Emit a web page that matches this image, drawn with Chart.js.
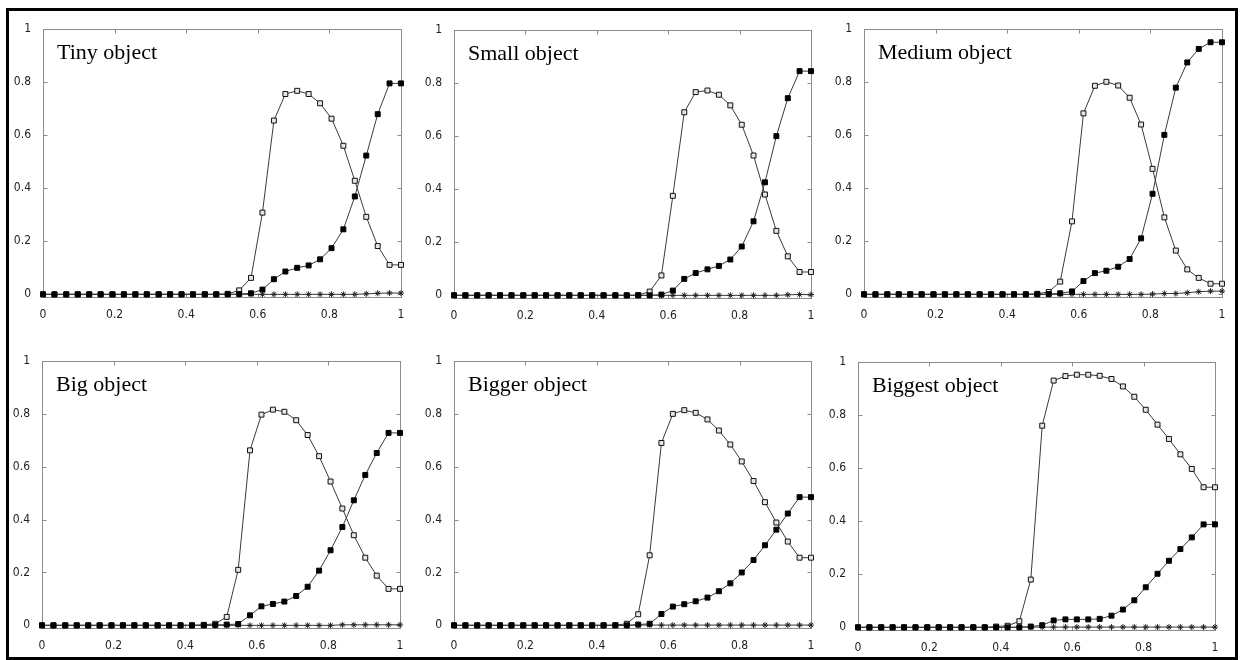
<!DOCTYPE html>
<html>
<head>
<meta charset="utf-8">
<script src="https://cdn.jsdelivr.net/npm/chart.js@4.4.1/dist/chart.umd.min.js"></script>
<style>
  html, body { margin: 0; padding: 0; background: #fff; }
  body { width: 1243px; height: 660px; position: relative; overflow: hidden; }
  #frame { position: absolute; left: 6px; top: 8px; width: 1232px; height: 652px; box-sizing: border-box; border: 3px solid #000; }
  canvas { position: absolute; }
</style>
</head>
<body>
<div id="frame"></div>
<script>
// ---- data ----
const xValues = [0, 0.032, 0.065, 0.097, 0.129, 0.161, 0.194, 0.226, 0.258, 0.290, 0.323, 0.355, 0.387, 0.419, 0.452, 0.484,
                 0.516, 0.548, 0.581, 0.613, 0.645, 0.677, 0.710, 0.742, 0.774, 0.806, 0.839, 0.871, 0.903, 0.935, 0.968, 1];
const xTickValues = [0, 0.2, 0.4, 0.6, 0.8, 1];
const xTickLabels = ['0', '0.2', '0.4', '0.6', '0.8', '1'];
const yTickValues = [0, 0.2, 0.4, 0.6, 0.8, 1];
const yTickLabels = ['0', '0.2', '0.4', '0.6', '0.8', '1'];
const panelTitles = ['Tiny object', 'Small object', 'Medium object', 'Big object', 'Bigger object', 'Biggest object'];

const tinyOpen    = [0,0,0,0,0,0,0,0,0,0,0,0,0,0,0,0, 0.002,0.015,0.062,0.308,0.655,0.755,0.767,0.755,0.720,0.662,0.560,0.428,0.292,0.182,0.111,0.111];
const tinyFilled  = [0,0,0,0,0,0,0,0,0,0,0,0,0,0,0,0, 0,0.001,0.004,0.018,0.057,0.086,0.100,0.109,0.132,0.174,0.245,0.369,0.523,0.679,0.795,0.795];
const tinyStar    = [0,0,0,0,0,0,0,0,0,0,0,0,0,0,0,0, 0,0,0,0,0,0,0,0,0,0,0,0,0.002,0.004,0.005,0.005];

const smallOpen   = [0,0,0,0,0,0,0,0,0,0,0,0,0,0,0,0, 0.001,0.014,0.075,0.375,0.690,0.766,0.772,0.756,0.716,0.643,0.527,0.380,0.243,0.147,0.088,0.088];
const smallFilled = [0,0,0,0,0,0,0,0,0,0,0,0,0,0,0,0, 0,0,0.003,0.018,0.062,0.084,0.098,0.111,0.135,0.184,0.279,0.426,0.600,0.743,0.845,0.845];
const smallStar   = [0,0,0,0,0,0,0,0,0,0,0,0,0,0,0,0, 0,0,0,0,0,0,0,0,0,0,0,0,0,0.002,0.003,0.003];

const mediumOpen  = [0,0,0,0,0,0,0,0,0,0,0,0,0,0,0,0.002, 0.009,0.048,0.275,0.682,0.786,0.801,0.787,0.741,0.640,0.473,0.290,0.165,0.094,0.062,0.040,0.040];
const mediumFilled= [0,0,0,0,0,0,0,0,0,0,0,0,0,0,0,0, 0.001,0.004,0.011,0.050,0.080,0.089,0.104,0.133,0.211,0.379,0.601,0.779,0.874,0.925,0.950,0.950];
const mediumStar  = [0,0,0,0,0,0,0,0,0,0,0,0,0,0,0,0, 0,0,0,0,0,0,0,0,0,0.001,0.003,0.003,0.006,0.010,0.012,0.012];

const bigOpen     = [0,0,0,0,0,0,0,0,0,0,0,0,0,0,0.002,0.006, 0.032,0.210,0.662,0.797,0.816,0.808,0.776,0.720,0.640,0.544,0.442,0.341,0.256,0.188,0.138,0.138];
const bigFilled   = [0,0,0,0,0,0,0,0,0,0,0,0,0,0,0,0.001, 0.003,0.005,0.038,0.072,0.081,0.090,0.111,0.146,0.207,0.284,0.372,0.473,0.569,0.652,0.728,0.728];
const bigStar     = [0,0,0,0,0,0,0,0,0,0,0,0,0,0,0,0, 0,0,0,0,0,0,0,0,0,0,0.002,0.002,0.002,0.002,0.002,0.002];

const biggerOpen  = [0,0,0,0,0,0,0,0,0,0,0,0,0,0,0.001,0.006, 0.042,0.265,0.690,0.800,0.814,0.804,0.779,0.737,0.684,0.620,0.546,0.466,0.389,0.317,0.256,0.256];
const biggerFilled= [0,0,0,0,0,0,0,0,0,0,0,0,0,0,0,0, 0.003,0.006,0.043,0.071,0.080,0.091,0.105,0.129,0.159,0.200,0.247,0.303,0.362,0.423,0.485,0.485];
const biggerStar  = [0,0,0,0,0,0,0,0,0,0,0,0,0,0,0,0, 0.001,0.001,0.001,0.001,0.001,0.001,0.001,0.001,0.001,0.001,0.001,0.001,0.001,0.001,0.001,0.001];

const biggestOpen = [0,0,0,0,0,0,0,0,0,0,0,0,0.003,0.006,0.023,0.180, 0.760,0.930,0.947,0.952,0.952,0.948,0.936,0.908,0.869,0.820,0.764,0.710,0.652,0.597,0.528,0.528];
const biggestFilled=[0,0,0,0,0,0,0,0,0,0,0,0,0,0,0,0.003, 0.008,0.026,0.030,0.030,0.030,0.032,0.044,0.067,0.102,0.151,0.202,0.251,0.295,0.339,0.388,0.388];
const biggestStar = [0,0,0,0,0,0,0,0,0,0,0,0,0,0,0.001,0.001, 0.001,0.001,0.001,0.001,0.001,0.001,0.001,0.001,0.001,0.001,0.001,0.001,0.001,0.001,0.001,0.001];

const panelSeries = [
  [tinyOpen, tinyFilled, tinyStar],
  [smallOpen, smallFilled, smallStar],
  [mediumOpen, mediumFilled, mediumStar],
  [bigOpen, bigFilled, bigStar],
  [biggerOpen, biggerFilled, biggerStar],
  [biggestOpen, biggestFilled, biggestStar]
];

// ---- layout (plot-area rectangles in page pixels) ----
const panelRects = [
  {L: 43,  R: 401,  T: 29,  B: 297},
  {L: 454, R: 811,  T: 30,  B: 298},
  {L: 864, R: 1222, T: 29,  B: 297},
  {L: 42,  R: 400,  T: 361, B: 628},
  {L: 454, R: 811,  T: 361, B: 628},
  {L: 858, R: 1215, T: 362, B: 630}
];
const YW = 40, XH = 26, PT = 12, PR = 12;
const frameColor = '#8c8c8c';
const lineColor = '#3a3a3a';

const panelDecor = {
  id: 'panelDecor',
  beforeDatasetsDraw(chart, args, opts) {
    const {ctx, chartArea: a, scales: {x, y}} = chart;
    ctx.save();
    ctx.strokeStyle = frameColor;
    ctx.lineWidth = 1;
    const l = Math.round(a.left) + 0.5, r = Math.round(a.right) + 0.5;
    const t = Math.round(a.top) + 0.5, b = Math.round(a.bottom) + 0.5;
    ctx.strokeRect(l, t, r - l, b - t);
    const tl = 4;
    ctx.beginPath();
    xTickValues.forEach(v => {
      const px = Math.round(x.getPixelForValue(v)) + 0.5;
      ctx.moveTo(px, t); ctx.lineTo(px, t + tl);
      ctx.moveTo(px, b); ctx.lineTo(px, b - tl);
    });
    yTickValues.forEach(v => {
      const py = Math.round(y.getPixelForValue(v)) + 0.5;
      ctx.moveTo(l, py); ctx.lineTo(l + tl, py);
      ctx.moveTo(r, py); ctx.lineTo(r - tl, py);
    });
    ctx.stroke();
    ctx.fillStyle = '#000';
    ctx.font = '22px "Liberation Serif", "Times New Roman", serif';
    ctx.textBaseline = 'alphabetic';
    ctx.textAlign = 'left';
    ctx.fillText(opts.title, a.left + 14, a.top + 30);
    ctx.restore();
  }
};

function pts(arr) { return xValues.map((xv, i) => ({x: xv, y: arr[i]})); }

const tickFont = { family: '"DejaVu Sans Condensed", "Liberation Sans", Arial, sans-serif', size: 12 };

panelRects.forEach((rc, idx) => {
  const cv = document.createElement('canvas');
  const w = YW + (rc.R - rc.L) + PR;
  const h = PT + (rc.B - rc.T) + XH;
  cv.width = w; cv.height = h;
  cv.style.width = w + 'px'; cv.style.height = h + 'px';
  cv.style.left = (rc.L - YW) + 'px';
  cv.style.top = (rc.T - PT) + 'px';
  document.body.appendChild(cv);
  const [open, filled, star] = panelSeries[idx];
  new Chart(cv, {
    type: 'line',
    data: {
      datasets: [
        { data: pts(filled), order: 0, borderColor: lineColor, borderWidth: 1, pointStyle: 'rect', pointRadius: 3.5,
          pointBackgroundColor: '#000', pointBorderColor: '#000', pointBorderWidth: 1, tension: 0, clip: false },
        { data: pts(open), order: 1, borderColor: lineColor, borderWidth: 1, pointStyle: 'rect', pointRadius: 3.5,
          pointBackgroundColor: '#e6e6e6', pointBorderColor: '#111', pointBorderWidth: 1, tension: 0, clip: false },
        { data: pts(star), order: 2, borderColor: lineColor, borderWidth: 1, pointStyle: 'star', pointRadius: 3,
          pointBackgroundColor: '#222', pointBorderColor: '#222', pointBorderWidth: 1, tension: 0, clip: false }
      ]
    },
    options: {
      responsive: false,
      animation: false,
      devicePixelRatio: 1,
      layout: { padding: { top: PT, right: PR, left: 0, bottom: 0 } },
      plugins: { legend: { display: false }, tooltip: { enabled: false }, panelDecor: { title: panelTitles[idx] } },
      scales: {
        x: {
          type: 'linear', min: 0, max: 1,
          grid: { display: false }, border: { display: false },
          afterBuildTicks: s => { s.ticks = xTickValues.map(v => ({value: v})); },
          afterFit: s => { s.height = XH; },
          ticks: { padding: 3, color: '#222', font: tickFont,
                   maxRotation: 0, autoSkip: false,
                   callback: (v) => { const i = xTickValues.indexOf(v); return i >= 0 ? xTickLabels[i] : ''; } }
        },
        y: {
          type: 'linear', min: -0.01, max: 1,
          grid: { display: false }, border: { display: false },
          afterBuildTicks: s => { s.ticks = yTickValues.map(v => ({value: v})); },
          afterFit: s => { s.width = YW; },
          ticks: { padding: 4, color: '#222', font: tickFont,
                   autoSkip: false,
                   callback: (v) => { const i = yTickValues.indexOf(v); return i >= 0 ? yTickLabels[i] : ''; } }
        }
      }
    },
    plugins: [panelDecor]
  });
});
</script>
</body>
</html>
